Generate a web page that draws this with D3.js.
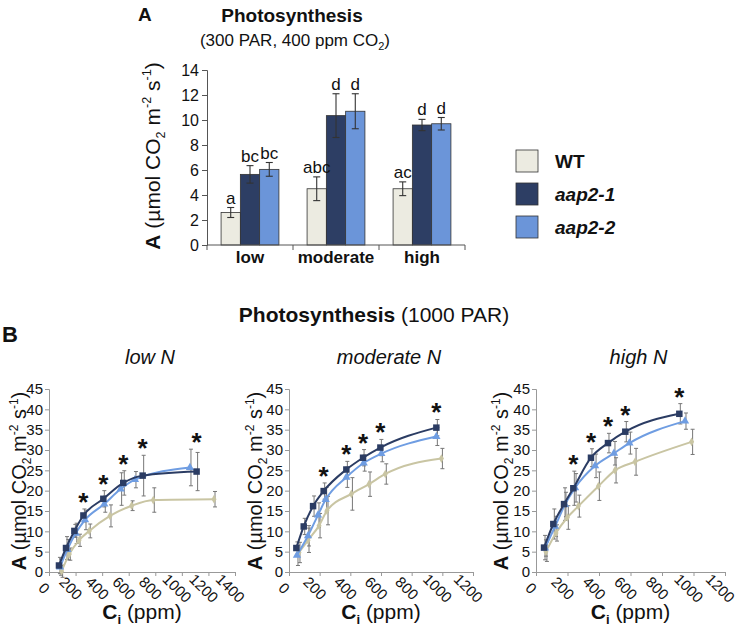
<!DOCTYPE html>
<html>
<head>
<meta charset="utf-8">
<script src="https://cdn.jsdelivr.net/npm/d3@7"></script>
<style>
  body { margin: 0; background: #fff; }
  text { font-family: "Liberation Sans", Arial, sans-serif; fill: #111; }
</style>
</head>
<body>
<svg id="chart" width="740" height="634"></svg>
<script>
// ---- panel A: bars (300 PAR, 400 ppm CO2) ----
var nLevels = ["low", "moderate", "high"];
var genotypes = ["WT", "aap2-1", "aap2-2"];
var barWT = [2.6, 4.5, 4.5];
var barWTErr = [0.4, 0.95, 0.55];
var barAap21 = [5.65, 10.35, 9.6];
var barAap21Err = [0.7, 1.75, 0.45];
var barAap22 = [6.05, 10.7, 9.7];
var barAap22Err = [0.55, 1.4, 0.5];
var lettersWT = ["a", "abc", "ac"];
var lettersAap21 = ["bc", "d", "d"];
var lettersAap22 = ["bc", "d", "d"];
var barTicks = [0, 2, 4, 6, 8, 10, 12, 14];

// ---- panel B: A/Ci curves (1000 PAR), [Ci, A, error] ----
var lowWT = [[95,0.2,1.5],[153,4.4,1.5],[226,7.8,1.5],[303,10.1,1.7],[459,13.8,2.7],[622,16.3,1.2],[785,17.7,3],[1242,17.9,1.9]];
var lowAap21 = [[75,1.6,2],[128,5.9,2.8],[191,10.1,1.6],[259,13.9,1.6],[409,18.0,2],[559,21.9,3],[705,23.7,5],[1111,24.7,4.7]];
var lowAap22 = [[83,1.2,2],[138,5.5,2.5],[201,9.5,2.5],[271,12.8,2.4],[416,16.7,2],[539,20.4,4],[647,22.7,2],[1061,25.7,4.5]];

var modWT = [[65,4.8,2.5],[124,7.8,3],[196,11.4,3],[248,15.1,3.5],[407,19.2,4],[522,21.6,3],[628,24.1,2.5],[994,27.9,2.5]];
var modAap21 = [[48,5.9,1.5],[96,11.2,2],[157,16.2,2.5],[226,19.9,2],[374,25.2,2],[483,28.1,2],[596,30.6,2],[961,35.5,2]];
var modAap22 = [[52,4.1,2.5],[124,8.9,2.5],[189,14,3],[239,17.8,3],[374,23.3,2.5],[487,26.8,2],[602,29.1,2],[961,33.3,2.2]];

var highWT = [[63,5.0,2.4],[127,9.6,2],[199,13.4,2.9],[269,16.2,2.7],[396,21.1,3.5],[502,25.0,3.1],[629,27.1,3.3],[988,32.0,3.1]];
var highAap21 = [[51,6.0,3],[110,11.8,3.7],[178,16.7,4],[237,20.6,4.2],[349,28.1,2.2],[457,31.7,2.4],[567,34.5,2.5],[910,38.9,2.5]];
var highAap22 = [[57,5.9,2],[121,11.2,2.5],[184,16.6,3],[248,20.7,3.5],[375,26.1,2.9],[495,29.2,2.9],[593,31.7,2.7],[946,37.1,2]];

var starIdx = [3, 4, 5, 6, 7];
var curveTitles = ["low N", "moderate N", "high N"];
var ciMax = [1400, 1200, 1200];
var aTicks = [0, 5, 10, 15, 20, 25, 30, 35, 40, 45];

var colWT = "#ecebe1", colD = "#2d3e64", colL = "#6b95d9";
var lineWT = "#c9c5a3", lineD = "#2b3c63", lineL = "#6f9de2";

var svg = d3.select("#chart");

// A (µmol CO2 m-2 s-1) label, rotated
function aLabel(g, x, y, size) {
  var t = g.append("text")
    .attr("transform", "translate(" + x + "," + y + ") rotate(-90)")
    .attr("text-anchor", "middle")
    .style("font-size", size + "px");
  t.append("tspan").attr("font-weight", "bold").text("A");
  t.append("tspan").text(" (µmol CO");
  t.append("tspan").attr("font-size", size * 0.6).attr("dy", size * 0.25).text("2");
  t.append("tspan").attr("dy", -size * 0.25).text(" m");
  t.append("tspan").attr("font-size", size * 0.6).attr("dy", -size * 0.42).text("-2");
  t.append("tspan").attr("dy", size * 0.42).text(" s");
  t.append("tspan").attr("font-size", size * 0.6).attr("dy", -size * 0.42).text("-1");
  t.append("tspan").attr("dy", size * 0.42).text(")");
}

// ================= panel A =================
var gA = svg.append("g");
gA.append("text").attr("x", 138).attr("y", 21).style("font-size", "19px").attr("font-weight", "bold").text("A");
gA.append("text").attr("x", 292).attr("y", 22).attr("text-anchor", "middle")
  .style("font-size", "19px").attr("font-weight", "bold").text("Photosynthesis");
var sub = gA.append("text").attr("x", 295).attr("y", 46).attr("text-anchor", "middle").style("font-size", "17px");
sub.append("tspan").text("(300 PAR, 400 ppm CO");
sub.append("tspan").attr("font-size", 11).attr("dy", 4).text("2");
sub.append("tspan").attr("dy", -4).text(")");

var x0 = d3.scaleBand().domain(nLevels).range([207, 465]);
var x1 = d3.scaleBand().domain(genotypes).range([0, x0.bandwidth()]).paddingOuter(0.73);
var yA = d3.scaleLinear().domain([0, 14]).range([245, 70]);

var barData = [];
nLevels.forEach(function(n, i) {
  barData.push({n: n, g: "WT", v: barWT[i], e: barWTErr[i], l: lettersWT[i], c: colWT});
  barData.push({n: n, g: "aap2-1", v: barAap21[i], e: barAap21Err[i], l: lettersAap21[i], c: colD});
  barData.push({n: n, g: "aap2-2", v: barAap22[i], e: barAap22Err[i], l: lettersAap22[i], c: colL});
});

gA.selectAll(".bar").data(barData).enter().append("rect")
  .attr("class", "bar")
  .attr("x", function(d) { return x0(d.n) + x1(d.g); })
  .attr("y", function(d) { return yA(d.v); })
  .attr("width", x1.bandwidth())
  .attr("height", function(d) { return yA(0) - yA(d.v); })
  .attr("fill", function(d) { return d.c; })
  .attr("stroke", "#333").attr("stroke-width", 0.8);

var eb = gA.selectAll(".eb").data(barData).enter().append("g").attr("class", "eb")
  .attr("stroke", "#333").attr("stroke-width", 1.1);
eb.append("line")
  .attr("x1", function(d) { return x0(d.n) + x1(d.g) + x1.bandwidth() / 2; })
  .attr("x2", function(d) { return x0(d.n) + x1(d.g) + x1.bandwidth() / 2; })
  .attr("y1", function(d) { return yA(d.v - d.e); })
  .attr("y2", function(d) { return yA(d.v + d.e); });
[-1, 1].forEach(function(s) {
  eb.append("line")
    .attr("x1", function(d) { return x0(d.n) + x1(d.g) + x1.bandwidth() / 2 - 3.5; })
    .attr("x2", function(d) { return x0(d.n) + x1(d.g) + x1.bandwidth() / 2 + 3.5; })
    .attr("y1", function(d) { return yA(d.v + s * d.e); })
    .attr("y2", function(d) { return yA(d.v + s * d.e); });
});
gA.selectAll(".let").data(barData).enter().append("text")
  .attr("x", function(d) { return x0(d.n) + x1(d.g) + x1.bandwidth() / 2; })
  .attr("y", function(d) { return yA(d.v + d.e) - 4; })
  .attr("text-anchor", "middle").style("font-size", "17px")
  .text(function(d) { return d.l; });

var axA = gA.append("g").attr("transform", "translate(207,0)")
  .call(d3.axisLeft(yA).tickValues(barTicks).tickSize(5).tickPadding(3));
axA.selectAll("text").style("font-size", "16px").attr("fill", "#111");
axA.selectAll("line, path").attr("stroke", "#555");

var axAx = gA.append("g").attr("transform", "translate(0,245)");
axAx.append("line").attr("x1", 207).attr("x2", 465).attr("stroke", "#555");
axAx.selectAll(".bt").data(nLevels.map(function(n) { return x0(n); }).concat([x0.range()[1]]))
  .enter().append("line").attr("x1", function(d) { return d; }).attr("x2", function(d) { return d; })
  .attr("y1", 0).attr("y2", 5).attr("stroke", "#555");
axAx.selectAll(".lab").data(nLevels).enter().append("text")
  .attr("x", function(d) { return x0(d) + x0.bandwidth() / 2; })
  .attr("y", 18).attr("text-anchor", "middle")
  .style("font-size", "17px").attr("font-weight", "bold").text(function(d) { return d; });

aLabel(gA, 160, 156, 21);

// legend
var leg = gA.selectAll(".leg").data(genotypes).enter().append("g")
  .attr("transform", function(d, i) { return "translate(516," + (150 + i * 33) + ")"; });
leg.append("rect").attr("width", 22).attr("height", 22)
  .attr("fill", function(d, i) { return [colWT, colD, colL][i]; })
  .attr("stroke", "#333").attr("stroke-width", 0.8);
leg.append("text").attr("x", 39).attr("y", 18).style("font-size", "19px").attr("font-weight", "bold")
  .style("font-style", function(d) { return d === "WT" ? "normal" : "italic"; })
  .text(function(d) { return d; });

// ================= panel B =================
var gB = svg.append("g");
gB.append("text").attr("x", 2).attr("y", 342).style("font-size", "22px").attr("font-weight", "bold").text("B");
var tB = gB.append("text").attr("x", 374).attr("y", 322).attr("text-anchor", "middle").style("font-size", "21px");
tB.append("tspan").attr("font-weight", "bold").text("Photosynthesis");
tB.append("tspan").text(" (1000 PAR)");

var panels = [
  {wt: lowWT, d: lowAap21, l: lowAap22, px: [49, 235], lab: 26},
  {wt: modWT, d: modAap21, l: modAap22, px: [289, 473], lab: 262},
  {wt: highWT, d: highAap21, l: highAap22, px: [536, 725], lab: 508}
];
var yB = d3.scaleLinear().domain([0, 45]).range([572, 389]);

panels.forEach(function(p, k) {
  var g = gB.append("g");
  var x = d3.scaleLinear().domain([0, ciMax[k]]).range(p.px);
  var xt = d3.range(0, ciMax[k] + 1, 200);

  g.append("text").attr("x", (p.px[0] + p.px[1]) / 2 + 8).attr("y", 364).attr("text-anchor", "middle")
    .style("font-size", "20px").style("font-style", "italic").text(curveTitles[k]);

  var ay = g.append("g").attr("transform", "translate(" + p.px[0] + ",0)")
    .call(d3.axisLeft(yB).tickValues(aTicks).tickSize(4).tickPadding(2));
  ay.selectAll("text").style("font-size", "15px").attr("fill", "#222");
  ay.selectAll("line, path").attr("stroke", "#999");

  var ax = g.append("g").attr("transform", "translate(0,572)")
    .call(d3.axisBottom(x).tickValues(xt).tickSize(4).tickFormat(d3.format("d")));
  ax.selectAll("line, path").attr("stroke", "#999");
  ax.selectAll("text").style("font-size", "15px").attr("fill", "#222")
    .attr("text-anchor", "middle").attr("dy", 0)
    .attr("transform", "translate(-4,15) rotate(45)");

  var xl = g.append("text").attr("x", (p.px[0] + p.px[1]) / 2).attr("y", 619)
    .attr("text-anchor", "middle").style("font-size", "21px");
  xl.append("tspan").attr("font-weight", "bold").text("C");
  xl.append("tspan").attr("font-weight", "bold").attr("font-size", 13).attr("dy", 5).text("i");
  xl.append("tspan").attr("dy", -5).text(" (ppm)");

  aLabel(g, p.lab, 481, 20);

  var line = d3.line().x(function(d) { return x(d[0]); }).y(function(d) { return yB(d[1]); })
    .curve(d3.curveMonotoneX);

  var series = [
    {data: p.wt, line: lineWT, sym: d3.symbolDiamond, size: 22},
    {data: p.l, line: lineL, sym: d3.symbolTriangle, size: 30},
    {data: p.d, line: lineD, sym: d3.symbolSquare, size: 42}
  ];
  series.forEach(function(s) {
    var eg = g.append("g").attr("stroke", "#777").attr("stroke-width", 1);
    eg.selectAll("line.v").data(s.data).enter().append("line")
      .attr("x1", function(d) { return x(d[0]) + 1; }).attr("x2", function(d) { return x(d[0]) + 1; })
      .attr("y1", function(d) { return yB(d[1] - d[2]); }).attr("y2", function(d) { return yB(d[1] + d[2]); });
    [-1, 1].forEach(function(sg) {
      eg.selectAll("line.c" + sg).data(s.data).enter().append("line")
        .attr("x1", function(d) { return x(d[0]) - 1; }).attr("x2", function(d) { return x(d[0]) + 3; })
        .attr("y1", function(d) { return yB(d[1] + sg * d[2]); }).attr("y2", function(d) { return yB(d[1] + sg * d[2]); });
    });
  });
  series.forEach(function(s) {
    g.append("path").datum(s.data).attr("d", line)
      .attr("fill", "none").attr("stroke", s.line).attr("stroke-width", 2);
    g.selectAll(null).data(s.data).enter().append("path")
      .attr("d", d3.symbol().type(s.sym).size(s.size))
      .attr("transform", function(d) { return "translate(" + x(d[0]) + "," + yB(d[1]) + ")"; })
      .attr("fill", s.line);
  });

  g.selectAll(".star").data(starIdx).enter().append("text")
    .attr("x", function(i) { return x(p.d[i][0]); })
    .attr("y", function(i) {
      var top = Math.max(p.d[i][1] + p.d[i][2], p.l[i][1] + p.l[i][2]);
      return yB(top + 3.2) + 15;
    })
    .attr("text-anchor", "middle").style("font-size", "26px").attr("font-weight", "bold").text("*");
});
</script>
</body>
</html>
